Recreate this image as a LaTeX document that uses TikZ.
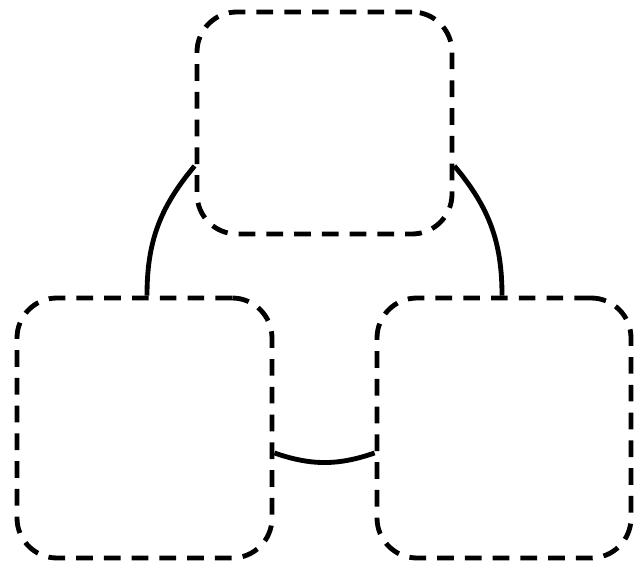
\documentclass[tikz,border=0pt]{standalone}
\usetikzlibrary{calc}
\tikzset{
  grpnode/.style={rectangle,rounded corners=0.8cm,draw=black,line width=2.75pt,
    dash pattern=on 9.5pt off 6.3pt,minimum width=5.1cm,inner sep=0pt},
  conn/.style={draw=black,line width=2.75pt}
}
\begin{document}
\begin{tikzpicture}

  \useasboundingbox (0,0) rectangle (12.68,11.26);

  % boxes
  \node[grpnode,minimum height=4.44cm] (top) at (6.49,8.8) {};
  \node[grpnode,minimum height=5.2cm] (left) at (2.89,2.7) {};
  \node[grpnode,minimum height=5.2cm,minimum width=5.08cm] (right) at (10.08,2.7) {};

  % links
  \draw[conn] ($(top.west)+(0,-0.86)$) to[out=-130,in=90] ($(left.north)+(0.05,0)$);
  \draw[conn] ($(top.east)+(0,-0.86)$) to[out=-50,in=90] ($(right.north)+(-0.04,0)$);
  \draw[conn] ($(left.east)+(0,-0.5)$) to[bend right=19] ($(right.west)+(0,-0.5)$);

\end{tikzpicture}
\end{document}
